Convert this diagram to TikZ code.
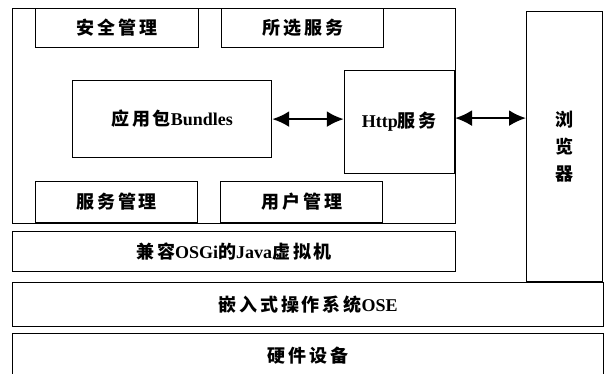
\documentclass[tikz,border=0pt]{standalone}
\usepackage{fontspec}
\setmainfont{Liberation Serif}
\newfontfamily\cjk[LetterSpace=16]{Noto Sans CJK SC}
\usetikzlibrary{positioning,arrows.meta}
\tikzset{
  layer box/.style={
    draw,
    line width=1.2pt,
    minimum width={#1},
    minimum height={39pt},
    inner sep=0pt,
    font=\bfseries\fontsize{18}{20}\selectfont,
  },
  both way/.style={
    {Latex[length=17pt,width=16pt]}-{Latex[length=17pt,width=16pt]},
    line width=2.4pt,
  }
}
\newcommand{\zh}[1]{{\cjk #1}}

\begin{document}
\begin{tikzpicture}[x=1pt,y=-1pt,node distance=22pt]
    \useasboundingbox (0,0) rectangle (608,374);

    \node [layer box=443pt, minimum height=215pt, anchor=north west] (frame) at (12,8) {};
    \node [layer box=163pt, anchor=north west] (sec) at (35,8) {\zh{安全管理}};
    \node [layer box=162pt, right=of sec] (sel) {\zh{所选服务}};
    \node [layer box=162pt, minimum height=41pt, anchor=south west] (svc) at (35,223) {\zh{服务管理}};
    \node [layer box=162pt, minimum height=41pt, right=of svc] (usr) {\zh{用户管理}};
    \node [layer box=199pt, minimum height=77pt, anchor=north west] (bundles) at (72,80) {\zh{应用包}Bundles};
    \node [layer box=110pt, minimum height=103pt, anchor=north east] (http) at (455,70) {Http\zh{服务}};

    \node [layer box=443pt, minimum height=40pt, anchor=north west] (jvm) at (12,231) {\zh{兼容}OSGi\zh{的}Java\zh{虚拟机}};
    \node [layer box=591pt, minimum height=44pt, anchor=north west] (ose) at (12,282) {\zh{嵌入式操作系统}OSE};
    \node [layer box=591pt, minimum height=44pt, anchor=north west] (hw) at (12,333) {\zh{硬件设备}};
    \node [layer box=76pt, minimum height=270pt, anchor=south west, align=center,
           font=\bfseries\fontsize{18}{27}\selectfont] (browser) at (526,282) {\zh{浏}\\\zh{览}\\\zh{器}};

    \draw [both way] (bundles.east) -- (bundles.east -| http.west);
    \draw [both way] ([yshift=4pt]http.east) -- ([yshift=4pt]http.east -| browser.west);
\end{tikzpicture}
\end{document}
